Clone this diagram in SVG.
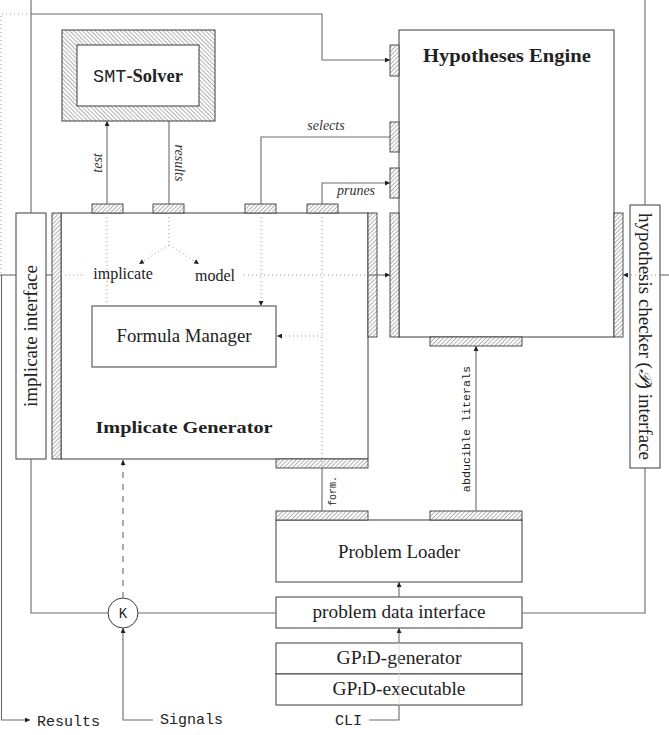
<svg xmlns="http://www.w3.org/2000/svg" width="669" height="735" viewBox="0 0 669 735">
<style>
.box{fill:#fff;stroke:#3c3c3c;stroke-width:1}
.port{fill:url(#hatch);stroke:#3c3c3c;stroke-width:0.9}
.ln{fill:none;stroke:#6a6a6a;stroke-width:1.1}
.dot{fill:none;stroke:#9a9a9a;stroke-width:1;stroke-dasharray:1 3}
.dash{fill:none;stroke:#6a6a6a;stroke-width:1.1;stroke-dasharray:6 6}
.arr{marker-end:url(#ah)}
.serif{font-family:"Liberation Serif","Times New Roman",serif;fill:#222}
.bold{font-family:"Liberation Serif","Times New Roman",serif;font-weight:bold;fill:#222}
.mono{font-family:"Liberation Mono","DejaVu Sans Mono",monospace;fill:#222}
.it{font-family:"Liberation Serif","Times New Roman",serif;font-style:italic;fill:#333}
</style>
<defs>
<pattern id="hatch" width="3" height="3" patternUnits="userSpaceOnUse" patternTransform="rotate(45)">
<rect width="3" height="3" fill="#fff"/>
<line x1="0" y1="0" x2="0" y2="3" stroke="#555" stroke-width="0.9"/>
</pattern>
<pattern id="hatch2" width="3" height="3" patternUnits="userSpaceOnUse" patternTransform="rotate(-45)">
<rect width="3" height="3" fill="#fff"/>
<line x1="0" y1="0" x2="0" y2="3" stroke="#555" stroke-width="0.9"/>
</pattern>
<marker id="ah" viewBox="0 0 6 6" refX="6" refY="3" markerWidth="5" markerHeight="5" markerUnits="userSpaceOnUse" orient="auto">
<path d="M0,0 L6,3 L0,6 z" fill="#222"/>
</marker>
</defs>
<rect width="669" height="735" fill="#fff"/>

<g id="smt-solver">
<rect x="62" y="30" width="153" height="91" fill="url(#hatch2)" stroke="#3c3c3c"/>
<rect class="box" x="77" y="45" width="122" height="61"/>
<text x="138" y="82" font-size="18.5" text-anchor="middle"><tspan class="mono">SMT</tspan><tspan class="bold">-Solver</tspan></text>
</g>

<g id="hypotheses-engine">
<rect class="box" x="399" y="30" width="215" height="307"/>
<text class="bold" x="507" y="62" font-size="19" text-anchor="middle" textLength="168" lengthAdjust="spacingAndGlyphs">Hypotheses Engine</text>
<rect class="port" x="390" y="45" width="9" height="31"/>
<rect class="port" x="390" y="122" width="9" height="30"/>
<rect class="port" x="390" y="168" width="9" height="30"/>
<rect class="port" x="390" y="213" width="9" height="124"/>
<rect class="port" x="614" y="213" width="9" height="124"/>
<rect class="port" x="430" y="337" width="92" height="9"/>
</g>

<g id="implicate-generator">
<rect class="box" x="61" y="213" width="307" height="246"/>
<rect class="port" x="52" y="213" width="9" height="246"/>
<rect class="port" x="368" y="213" width="9" height="124"/>
<rect class="port" x="92" y="204" width="31" height="9"/>
<rect class="port" x="153" y="204" width="31" height="9"/>
<rect class="port" x="245" y="204" width="31" height="9"/>
<rect class="port" x="307" y="204" width="31" height="9"/>
<rect class="port" x="276" y="459" width="92" height="9"/>
<text class="bold" x="184" y="433" font-size="17" text-anchor="middle" textLength="177" lengthAdjust="spacingAndGlyphs">Implicate Generator</text>
</g>

<g id="formula-manager">
<rect class="box" x="92" y="306" width="184" height="61"/>
<text class="serif" x="184" y="342" font-size="18" text-anchor="middle" textLength="135" lengthAdjust="spacingAndGlyphs">Formula Manager</text>
</g>

<g id="implicate-interface">
<rect class="box" x="16" y="213" width="30" height="246"/>
<text class="serif" font-size="18" transform="translate(37,336) rotate(-90)" text-anchor="middle" textLength="142" lengthAdjust="spacingAndGlyphs">implicate interface</text>
</g>

<g id="hypothesis-checker-interface">
<rect class="box" x="630" y="205" width="30" height="263"/>
<text class="serif" font-size="18" transform="translate(639,336.5) rotate(90)" text-anchor="middle" textLength="247" lengthAdjust="spacingAndGlyphs">hypothesis checker (<tspan font-style="italic">𝒫</tspan>) interface</text>
</g>

<g id="problem-loader">
<rect class="box" x="276" y="520" width="246" height="62"/>
<rect class="port" x="276" y="511" width="92" height="9"/>
<rect class="port" x="430" y="511" width="92" height="9"/>
<text class="serif" x="399" y="558" font-size="18" text-anchor="middle" textLength="122" lengthAdjust="spacingAndGlyphs">Problem Loader</text>
</g>

<g id="problem-data-interface">
<rect class="box" x="276" y="597" width="246" height="31"/>
<text class="serif" x="399" y="618" font-size="18" text-anchor="middle" textLength="173" lengthAdjust="spacingAndGlyphs">problem data interface</text>
</g>

<g id="gpid-generator">
<rect class="box" x="276" y="643" width="246" height="31"/>
<text class="serif" x="399" y="664" font-size="18" text-anchor="middle" textLength="125" lengthAdjust="spacingAndGlyphs">GP<tspan font-size="13">I</tspan>D-generator</text>
</g>

<g id="gpid-executable">
<rect class="box" x="276" y="674" width="246" height="31"/>
<text class="serif" x="399" y="695" font-size="18" text-anchor="middle" textLength="133" lengthAdjust="spacingAndGlyphs">GP<tspan font-size="13">I</tspan>D-executable</text>
</g>

<g id="k-node">
<circle cx="123" cy="613" r="15" fill="#fff" stroke="#3c3c3c"/>
<text class="mono" x="123" y="618" font-size="14" text-anchor="middle">K</text>
</g>

<g id="terminals">
<text class="mono" x="37" y="726" font-size="15">Results</text>
<text class="mono" x="160" y="724" font-size="15">Signals</text>
<text class="mono" x="335" y="725" font-size="15">CLI</text>
</g>

<g id="connectors">
<path class="ln" d="M31,0 V213"/>
<path class="ln arr" d="M31,14 H322 V60 H390"/>
<path class="dot" d="M31,14 H1 V275"/>
<path class="ln" d="M0,275 H16"/>
<path class="ln arr" d="M1.5,275 V720 H30"/>
<path class="ln" d="M46,275 H52"/>
<path class="dot" d="M61,275 H84"/>
<path class="dot" d="M244,275 H368"/>
<path class="ln arr" d="M368,275 H390"/>
<path class="ln arr" d="M107,204 V121"/>
<path class="ln" d="M169,121 V204"/>
<path class="ln" d="M261,204 V137 H390"/>
<path class="ln arr" d="M322,204 V183 H390"/>
<path class="dot" d="M107,213 V306"/>
<path class="dot" d="M169,213 V245"/>
<path class="dot arr" d="M169,245 L139,264"/>
<path class="dot arr" d="M169,245 L199,264"/>
<path class="dot arr" d="M261,213 V306"/>
<path class="dot" d="M322,213 V468"/>
<path class="dot arr" d="M322,336 H277"/>
<path class="ln" d="M322,468 V511"/>
<path class="ln arr" d="M476,511 V346"/>
<path class="ln" d="M31,459 V613 H108"/>
<path class="ln" d="M138,613 H276"/>
<path class="ln" d="M522,613 H645 V468"/>
<path class="dash arr" d="M123,598 V460"/>
<path class="ln arr" d="M153,720 H123 V628"/>
<path class="ln arr" d="M399,597 V582"/>
<path class="ln arr" d="M399,643 V628"/>
<path class="ln" d="M369,720 H399 V705"/>
<path fill="none" stroke="#d8d8d8" stroke-width="0.8" d="M399,705 V643"/>
<path class="ln" d="M645,0 V205"/>
<path class="ln" d="M669,275 H660"/>
<path class="dot arr" d="M660,275 H623"/>
<text class="it" font-size="14" transform="translate(102,163) rotate(-90)" text-anchor="middle">test</text>
<text class="it" font-size="14" transform="translate(175,163) rotate(90)" text-anchor="middle">results</text>
<text class="it" x="326" y="130" font-size="14" text-anchor="middle">selects</text>
<text class="it" x="356" y="195" font-size="14" text-anchor="middle">prunes</text>
<text class="mono" font-size="10" transform="translate(336,491) rotate(-90)" text-anchor="middle">form.</text>
<text class="mono" font-size="11.7" transform="translate(470,429) rotate(-90)" text-anchor="middle">abducible literals</text>
<text class="serif" x="123" y="279" font-size="16" text-anchor="middle">implicate</text>
<text class="serif" x="215" y="281" font-size="16" text-anchor="middle">model</text>
</g>
</svg>
